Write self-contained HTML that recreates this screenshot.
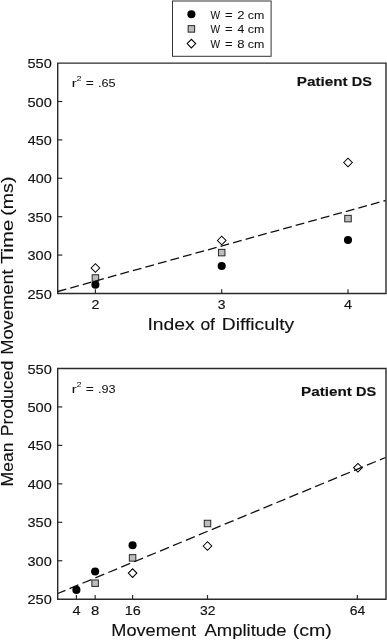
<!DOCTYPE html>
<html><head><meta charset="utf-8"><title>chart</title><style>html,body{margin:0;padding:0;background:#fff;overflow:hidden}svg{display:block;will-change:transform}</style></head><body>
<svg width="387" height="641" viewBox="0 0 387 641" font-family="Liberation Sans, sans-serif" fill="#111">
<rect width="387" height="641" fill="#fff"/>
<rect x="172.5" y="1" width="98.6" height="55.3" fill="#fff" stroke="#333" stroke-width="1"/>
<circle cx="191.4" cy="14.2" r="4.05" fill="#000"/>
<rect x="188.15" y="25.65" width="6.5" height="6.5" fill="#bcbcbc" stroke="#262626" stroke-width="1"/>
<path d="M187.10 43.6L191.4 39.30L195.70 43.6L191.4 47.90Z" fill="#fff" stroke="#000" stroke-width="1.05"/>
<path d="M57.7 293.5V63.1H386V293.5Z" fill="none" stroke="#2a2a2a" stroke-width="1.4"/>
<path d="M57.7 101.50h4.6" stroke="#2a2a2a" stroke-width="1.2"/>
<path d="M57.7 139.90h4.6" stroke="#2a2a2a" stroke-width="1.2"/>
<path d="M57.7 178.30h4.6" stroke="#2a2a2a" stroke-width="1.2"/>
<path d="M57.7 216.70h4.6" stroke="#2a2a2a" stroke-width="1.2"/>
<path d="M57.7 255.10h4.6" stroke="#2a2a2a" stroke-width="1.2"/>
<path d="M95.40 293.5v-4.2" stroke="#2a2a2a" stroke-width="1.2"/>
<path d="M221.70 293.5v-4.2" stroke="#2a2a2a" stroke-width="1.2"/>
<path d="M348.00 293.5v-4.2" stroke="#2a2a2a" stroke-width="1.2"/>
<path d="M57.7 599.2V368.5H386V599.2Z" fill="none" stroke="#2a2a2a" stroke-width="1.4"/>
<path d="M57.7 406.95h4.6" stroke="#2a2a2a" stroke-width="1.2"/>
<path d="M57.7 445.40h4.6" stroke="#2a2a2a" stroke-width="1.2"/>
<path d="M57.7 483.85h4.6" stroke="#2a2a2a" stroke-width="1.2"/>
<path d="M57.7 522.30h4.6" stroke="#2a2a2a" stroke-width="1.2"/>
<path d="M57.7 560.75h4.6" stroke="#2a2a2a" stroke-width="1.2"/>
<path d="M76.40 599.2v-4.2" stroke="#2a2a2a" stroke-width="1.2"/>
<path d="M95.13 599.2v-4.2" stroke="#2a2a2a" stroke-width="1.2"/>
<path d="M132.58 599.2v-4.2" stroke="#2a2a2a" stroke-width="1.2"/>
<path d="M207.50 599.2v-4.2" stroke="#2a2a2a" stroke-width="1.2"/>
<path d="M357.32 599.2v-4.2" stroke="#2a2a2a" stroke-width="1.2"/>
<path d="M91.10 268L95.4 263.70L99.70 268L95.4 272.30Z" fill="#fff" stroke="#000" stroke-width="1.05"/>
<path d="M217.40 240.5L221.7 236.20L226.00 240.5L221.7 244.80Z" fill="#fff" stroke="#000" stroke-width="1.05"/>
<path d="M343.70 162.5L348.0 158.20L352.30 162.5L348.0 166.80Z" fill="#fff" stroke="#000" stroke-width="1.05"/>
<rect x="92.15" y="274.75" width="6.5" height="6.5" fill="#bcbcbc" stroke="#262626" stroke-width="1"/>
<rect x="218.45" y="249.35" width="6.5" height="6.5" fill="#bcbcbc" stroke="#262626" stroke-width="1"/>
<rect x="344.75" y="215.35" width="6.5" height="6.5" fill="#bcbcbc" stroke="#262626" stroke-width="1"/>
<circle cx="95.4" cy="284.8" r="4.05" fill="#000"/>
<circle cx="221.7" cy="266" r="4.05" fill="#000"/>
<circle cx="348.0" cy="240" r="4.05" fill="#000"/>
<path d="M128.28 573.1L132.58 568.80L136.88 573.1L132.58 577.40Z" fill="#fff" stroke="#000" stroke-width="1.05"/>
<path d="M203.20 546L207.5 541.70L211.80 546L207.5 550.30Z" fill="#fff" stroke="#000" stroke-width="1.05"/>
<path d="M353.63 467.7L357.93 463.40L362.23 467.7L357.93 472.00Z" fill="#fff" stroke="#000" stroke-width="1.05"/>
<rect x="91.88" y="579.95" width="6.5" height="6.5" fill="#bcbcbc" stroke="#262626" stroke-width="1"/>
<rect x="129.33" y="554.65" width="6.5" height="6.5" fill="#bcbcbc" stroke="#262626" stroke-width="1"/>
<rect x="204.25" y="520.25" width="6.5" height="6.5" fill="#bcbcbc" stroke="#262626" stroke-width="1"/>
<circle cx="76.4" cy="589.9" r="4.05" fill="#000"/>
<circle cx="95.13" cy="571.5" r="4.05" fill="#000"/>
<circle cx="132.58" cy="545.2" r="4.05" fill="#000"/>
<path d="M57.7 291.5L385.5 200.5" stroke="#111" stroke-width="1.3" stroke-dasharray="8.9 4.1" stroke-dashoffset="0" fill="none"/>
<path d="M57.7 593.5L385.5 457.5" stroke="#111" stroke-width="1.3" stroke-dasharray="9.6 4.4" stroke-dashoffset="1.2" fill="none"/>
<g stroke="#111" stroke-linejoin="round">
<text x="210.58" y="18.50" font-size="11" stroke-width="0.05" textLength="9.62" lengthAdjust="spacingAndGlyphs">W</text>
<text x="224.90" y="18.50" font-size="11" stroke-width="0.05" textLength="7.65" lengthAdjust="spacingAndGlyphs">=</text>
<text x="237.30" y="18.50" font-size="11" stroke-width="0.05" textLength="7.28" lengthAdjust="spacingAndGlyphs">2</text>
<text x="247.84" y="18.50" font-size="11" stroke-width="0.05" textLength="16.56" lengthAdjust="spacingAndGlyphs">cm</text>
<text x="210.58" y="33.10" font-size="11" stroke-width="0.05" textLength="9.62" lengthAdjust="spacingAndGlyphs">W</text>
<text x="224.90" y="33.10" font-size="11" stroke-width="0.05" textLength="7.65" lengthAdjust="spacingAndGlyphs">=</text>
<text x="237.62" y="33.10" font-size="11" stroke-width="0.05" textLength="6.79" lengthAdjust="spacingAndGlyphs">4</text>
<text x="247.84" y="33.10" font-size="11" stroke-width="0.05" textLength="16.56" lengthAdjust="spacingAndGlyphs">cm</text>
<text x="210.58" y="47.80" font-size="11" stroke-width="0.05" textLength="9.62" lengthAdjust="spacingAndGlyphs">W</text>
<text x="224.90" y="47.80" font-size="11" stroke-width="0.05" textLength="7.65" lengthAdjust="spacingAndGlyphs">=</text>
<text x="237.30" y="47.80" font-size="11" stroke-width="0.05" textLength="7.28" lengthAdjust="spacingAndGlyphs">8</text>
<text x="247.84" y="47.80" font-size="11" stroke-width="0.05" textLength="16.56" lengthAdjust="spacingAndGlyphs">cm</text>
<text x="27.42" y="68.10" font-size="13.5" stroke-width="0.15" textLength="24.34" lengthAdjust="spacingAndGlyphs">550</text>
<text x="27.42" y="106.50" font-size="13.5" stroke-width="0.15" textLength="24.34" lengthAdjust="spacingAndGlyphs">500</text>
<text x="27.83" y="144.90" font-size="13.5" stroke-width="0.15" textLength="23.92" lengthAdjust="spacingAndGlyphs">450</text>
<text x="27.83" y="183.30" font-size="13.5" stroke-width="0.15" textLength="23.92" lengthAdjust="spacingAndGlyphs">400</text>
<text x="27.56" y="221.70" font-size="13.5" stroke-width="0.15" textLength="24.20" lengthAdjust="spacingAndGlyphs">350</text>
<text x="27.56" y="260.10" font-size="13.5" stroke-width="0.15" textLength="24.20" lengthAdjust="spacingAndGlyphs">300</text>
<text x="27.42" y="298.50" font-size="13.5" stroke-width="0.15" textLength="24.34" lengthAdjust="spacingAndGlyphs">250</text>
<text x="91.44" y="308.80" font-size="13.5" stroke-width="0.15" textLength="7.93" lengthAdjust="spacingAndGlyphs">2</text>
<text x="217.88" y="308.80" font-size="13.5" stroke-width="0.15" textLength="7.77" lengthAdjust="spacingAndGlyphs">3</text>
<text x="344.03" y="308.80" font-size="13.5" stroke-width="0.15" textLength="8.08" lengthAdjust="spacingAndGlyphs">4</text>
<text x="27.42" y="373.50" font-size="13.5" stroke-width="0.15" textLength="24.34" lengthAdjust="spacingAndGlyphs">550</text>
<text x="27.42" y="411.95" font-size="13.5" stroke-width="0.15" textLength="24.34" lengthAdjust="spacingAndGlyphs">500</text>
<text x="27.83" y="450.40" font-size="13.5" stroke-width="0.15" textLength="23.92" lengthAdjust="spacingAndGlyphs">450</text>
<text x="27.83" y="488.85" font-size="13.5" stroke-width="0.15" textLength="23.92" lengthAdjust="spacingAndGlyphs">400</text>
<text x="27.56" y="527.30" font-size="13.5" stroke-width="0.15" textLength="24.20" lengthAdjust="spacingAndGlyphs">350</text>
<text x="27.56" y="565.75" font-size="13.5" stroke-width="0.15" textLength="24.20" lengthAdjust="spacingAndGlyphs">300</text>
<text x="27.42" y="604.20" font-size="13.5" stroke-width="0.15" textLength="24.34" lengthAdjust="spacingAndGlyphs">250</text>
<text x="72.43" y="614.50" font-size="13.5" stroke-width="0.15" textLength="8.08" lengthAdjust="spacingAndGlyphs">4</text>
<text x="90.99" y="614.50" font-size="13.5" stroke-width="0.15" textLength="8.29" lengthAdjust="spacingAndGlyphs">8</text>
<text x="124.66" y="614.50" font-size="13.5" stroke-width="0.15" textLength="16.06" lengthAdjust="spacingAndGlyphs">16</text>
<text x="200.13" y="614.50" font-size="13.5" stroke-width="0.15" textLength="15.48" lengthAdjust="spacingAndGlyphs">32</text>
<text x="349.70" y="614.50" font-size="13.5" stroke-width="0.15" textLength="15.48" lengthAdjust="spacingAndGlyphs">64</text>
<text x="71.83" y="86.50" font-size="11.6" stroke-width="0.05" textLength="4.97" lengthAdjust="spacingAndGlyphs">r</text>
<text x="76.81" y="81.30" font-size="8.0" stroke-width="0.05" textLength="4.66" lengthAdjust="spacingAndGlyphs">2</text>
<text x="85.76" y="86.50" font-size="11.6" stroke-width="0.05" textLength="8.07" lengthAdjust="spacingAndGlyphs">=</text>
<text x="97.91" y="86.50" font-size="11.6" stroke-width="0.05" textLength="17.64" lengthAdjust="spacingAndGlyphs">.65</text>
<text x="296.79" y="86.20" font-size="13.2" font-weight="bold" stroke-width="0.15" textLength="50.86" lengthAdjust="spacingAndGlyphs">Patient</text>
<text x="351.74" y="86.20" font-size="13.2" font-weight="bold" stroke-width="0.15" textLength="20.17" lengthAdjust="spacingAndGlyphs">DS</text>
<text x="71.83" y="392.50" font-size="11.6" stroke-width="0.05" textLength="4.97" lengthAdjust="spacingAndGlyphs">r</text>
<text x="76.81" y="387.30" font-size="8.0" stroke-width="0.05" textLength="4.66" lengthAdjust="spacingAndGlyphs">2</text>
<text x="85.76" y="392.50" font-size="11.6" stroke-width="0.05" textLength="8.07" lengthAdjust="spacingAndGlyphs">=</text>
<text x="97.91" y="392.50" font-size="11.6" stroke-width="0.05" textLength="17.64" lengthAdjust="spacingAndGlyphs">.93</text>
<text x="300.99" y="396.20" font-size="13.2" font-weight="bold" stroke-width="0.15" textLength="50.86" lengthAdjust="spacingAndGlyphs">Patient</text>
<text x="355.94" y="396.20" font-size="13.2" font-weight="bold" stroke-width="0.15" textLength="20.17" lengthAdjust="spacingAndGlyphs">DS</text>
<text x="147.49" y="329.60" font-size="16" stroke-width="0.12" textLength="47.28" lengthAdjust="spacingAndGlyphs">Index</text>
<text x="200.42" y="329.60" font-size="16" stroke-width="0.12" textLength="14.55" lengthAdjust="spacingAndGlyphs">of</text>
<text x="221.75" y="329.60" font-size="16" stroke-width="0.12" textLength="72.40" lengthAdjust="spacingAndGlyphs">Difficulty</text>
<text x="111.34" y="636.40" font-size="16" stroke-width="0.12" textLength="84.74" lengthAdjust="spacingAndGlyphs">Movement</text>
<text x="204.50" y="636.40" font-size="16" stroke-width="0.12" textLength="82.09" lengthAdjust="spacingAndGlyphs">Amplitude</text>
<text x="292.68" y="636.40" font-size="16" stroke-width="0.12" textLength="39.13" lengthAdjust="spacingAndGlyphs">(cm)</text>
<text transform="translate(13.10 486.41) rotate(-90)" font-size="16" stroke-width="0.12" textLength="43.83" lengthAdjust="spacingAndGlyphs">Mean</text>
<text transform="translate(13.10 436.32) rotate(-90)" font-size="16" stroke-width="0.12" textLength="75.61" lengthAdjust="spacingAndGlyphs">Produced</text>
<text transform="translate(13.10 354.87) rotate(-90)" font-size="16" stroke-width="0.12" textLength="85.56" lengthAdjust="spacingAndGlyphs">Movement</text>
<text transform="translate(13.10 264.07) rotate(-90)" font-size="16" stroke-width="0.12" textLength="44.28" lengthAdjust="spacingAndGlyphs">Time</text>
<text transform="translate(13.10 215.72) rotate(-90)" font-size="16" stroke-width="0.12" textLength="39.13" lengthAdjust="spacingAndGlyphs">(ms)</text>
</g>
</svg>
</body></html>
